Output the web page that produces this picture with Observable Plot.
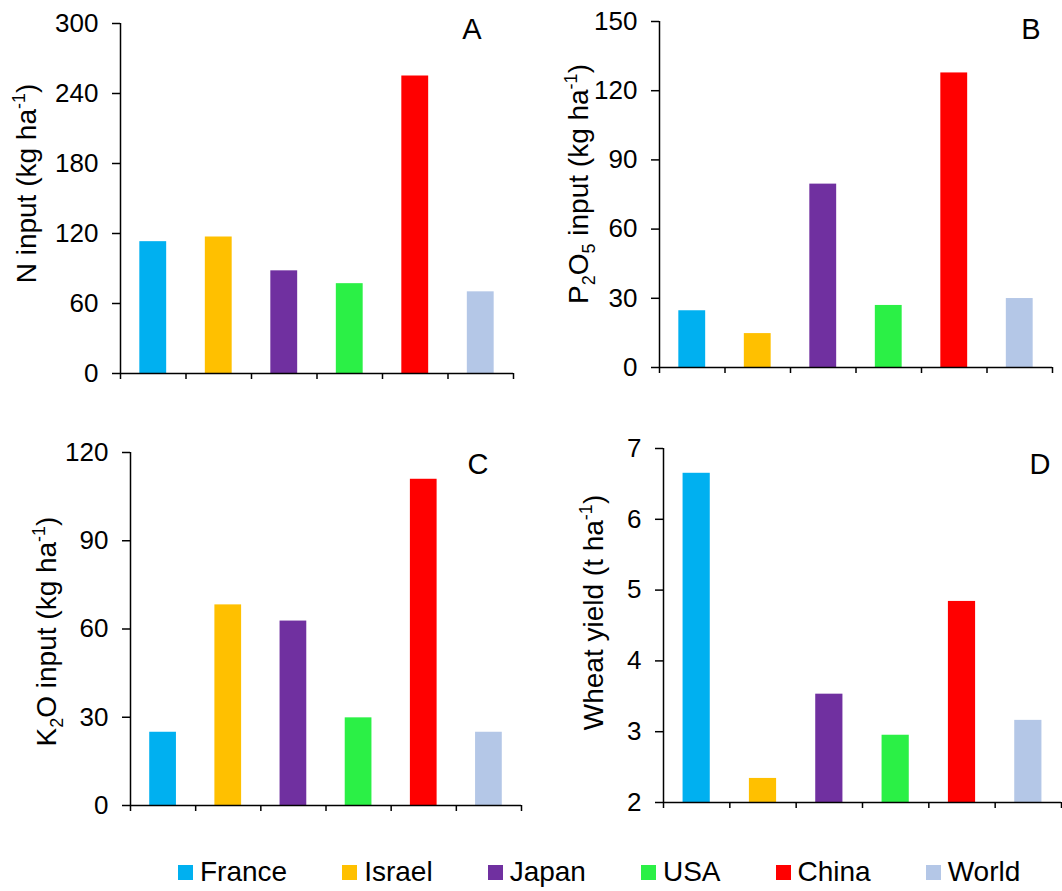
<!DOCTYPE html>
<html><head><meta charset="utf-8">
<script src="https://cdn.jsdelivr.net/npm/d3@7"></script>
<script src="https://cdn.jsdelivr.net/npm/@observablehq/plot@0.6"></script>
<style>
html,body{margin:0;padding:0;background:#fff;}
#wrap{position:relative;width:1062px;height:891px;overflow:hidden;background:#fff;font-family:"Liberation Sans",Arial,sans-serif;color:#000;}
.panel{position:absolute;}
.panel svg{overflow:visible;}
.panel svg text{font-size:26px !important;font-family:"Liberation Sans",Arial,sans-serif !important;font-variant-numeric:normal !important;fill:#000;}
#legend{position:absolute;left:178px;top:858px;display:flex;align-items:center;gap:55px;font-size:28px;line-height:28px;white-space:nowrap;}
.item{display:flex;align-items:center;}
.sw{width:15px;height:15px;margin-right:7px;}
#overlay{position:absolute;left:0;top:0;pointer-events:none;}
</style></head><body><div id="wrap"></div>
<script>
// ---- data ----
const countries = ["France", "Israel", "Japan", "USA", "China", "World"];
const colors = ["#00b0f0", "#ffc000", "#7030a0", "#2bf046", "#ff0000", "#b4c7e7"];
const nInput = [113, 117, 88, 77, 255, 70];          // kg/ha
const p2o5Input = [24.6, 14.7, 79.5, 26.9, 127.7, 29.9]; // kg/ha
const k2oInput = [24.9, 68.2, 62.7, 29.8, 110.9, 24.9];  // kg/ha
const wheatYield = [6.65, 2.34, 3.53, 2.95, 4.84, 3.16]; // t/ha
const nTicks = [0, 60, 120, 180, 240, 300];
const pTicks = [0, 30, 60, 90, 120, 150];
const kTicks = [0, 30, 60, 90, 120];
const yieldTicks = [2, 3, 4, 5, 6, 7];

const FONT = '"Liberation Sans", Arial, sans-serif';
const wrap = document.getElementById("wrap");

const panels = [
  {values: nInput, ticks: nTicks, left: 0, top: 0, width: 521, height: 387, ml: 120, mr: 8, mt: 23, mb: 14,
   letter: "A", letterX: 472, letterY: 39, labelX: 35.5, labelY: 183.5,
   label: [{t: "N input (kg ha"}, {t: "-1", sup: true}, {t: ")"}]},
  {values: p2o5Input, ticks: pTicks, left: 530, top: 0, width: 530, height: 381, ml: 129, mr: 8, mt: 21, mb: 14,
   letter: "B", letterX: 1031, letterY: 39, labelX: 587.5, labelY: 184,
   label: [{t: "P"}, {t: "2", sub: true}, {t: "O"}, {t: "5", sub: true}, {t: " input (kg ha"}, {t: "-1", sup: true}, {t: ")"}]},
  {values: k2oInput, ticks: kTicks, left: 0, top: 430, width: 529, height: 389, ml: 130, mr: 8, mt: 22, mb: 14,
   letter: "C", letterX: 478, letterY: 474, labelX: 55.5, labelY: 631.5,
   label: [{t: "K"}, {t: "2", sub: true}, {t: "O input (kg ha"}, {t: "-1", sup: true}, {t: ")"}]},
  {values: wheatYield, ticks: yieldTicks, left: 530, top: 430, width: 532, height: 386, ml: 133, mr: 1, mt: 18, mb: 14,
   letter: "D", letterX: 1040, letterY: 474, labelX: 603, labelY: 612.5,
   label: [{t: "Wheat yield (t ha"}, {t: "-1", sup: true}, {t: ")"}]}
];

const idx = d3.range(countries.length);

for (const p of panels) {
  const yMin = p.ticks[0], yMax = p.ticks[p.ticks.length - 1];
  const chart = Plot.plot({
    width: p.width, height: p.height,
    marginLeft: p.ml, marginRight: p.mr, marginTop: p.mt, marginBottom: p.mb,
    style: {fontFamily: FONT, fontSize: "26px", color: "#000", background: "transparent", overflow: "visible"},
    x: {domain: [0, countries.length]},
    y: {domain: [yMin, yMax]},
    color: {domain: countries, range: colors},
    marks: [
      Plot.rectY(idx, {x1: i => i + 0.295, x2: i => i + 0.705, y1: () => yMin, y2: i => p.values[i], fill: i => countries[i]}),
      Plot.ruleX([0], {stroke: "#000", strokeWidth: 1.5}),
      Plot.ruleY([yMin], {stroke: "#000", strokeWidth: 1.5}),
      Plot.axisY({ticks: p.ticks, tickSize: 8, tickPadding: 14, tickFormat: d => String(d), label: null, fontSize: 26, stroke: "#000", strokeWidth: 1.5, fill: "#000"}),
      Plot.axisX({ticks: d3.range(countries.length + 1), tickSize: 6, tickFormat: () => "", label: null, stroke: "#000", strokeWidth: 1.5})
    ]
  });
  const div = document.createElement("div");
  div.className = "panel";
  div.style.left = p.left + "px";
  div.style.top = p.top + "px";
  div.appendChild(chart);
  wrap.appendChild(div);
}

// overlay: axis titles and panel letters
const svg = d3.create("svg").attr("id", "overlay").attr("width", 1062).attr("height", 891)
  .style("font-family", FONT);
for (const p of panels) {
  const t = svg.append("text")
    .attr("transform", `translate(${p.labelX},${p.labelY}) rotate(-90)`)
    .attr("text-anchor", "middle")
    .style("font-size", "28px")
    .attr("fill", "#000");
  let shift = 0;
  for (const seg of p.label) {
    const target = seg.sup ? -11 : seg.sub ? 7 : 0;
    const ts = t.append("tspan").text(seg.t).attr("dy", target - shift);
    if (seg.sup || seg.sub) ts.style("font-size", "18px");
    shift = target;
  }
  svg.append("text")
    .attr("x", p.letterX).attr("y", p.letterY)
    .attr("text-anchor", "middle").style("font-size", "29px").attr("fill", "#000")
    .text(p.letter);
}
wrap.appendChild(svg.node());

// legend
const legend = document.createElement("div");
legend.id = "legend";
countries.forEach((c, i) => {
  const item = document.createElement("div");
  item.className = "item";
  const sw = document.createElement("span");
  sw.className = "sw";
  sw.style.background = colors[i];
  const lab = document.createElement("span");
  lab.textContent = c;
  item.appendChild(sw);
  item.appendChild(lab);
  legend.appendChild(item);
});
wrap.appendChild(legend);
</script>
</body></html>
